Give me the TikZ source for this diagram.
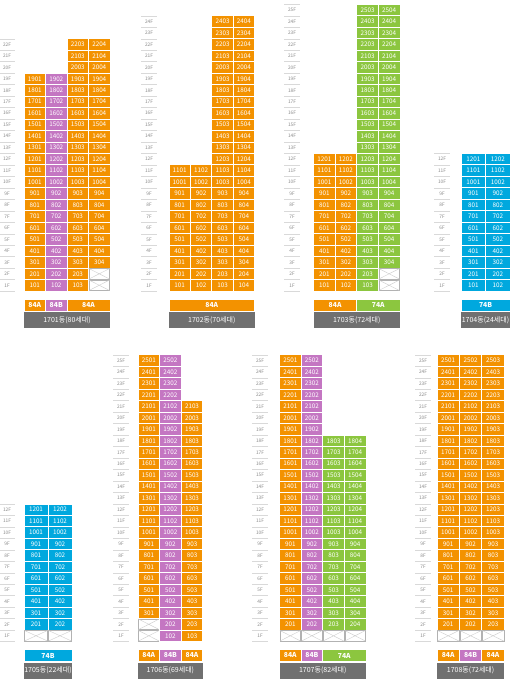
\documentclass[tikz,border=0pt]{standalone}
\usepackage{fontspec}
\setmainfont{Noto Sans CJK KR}
\definecolor{cor}{RGB}{243,146,0}
\definecolor{cpu}{RGB}{196,118,194}
\definecolor{cgr}{RGB}{140,198,63}
\definecolor{cbl}{RGB}{0,168,222}
\definecolor{cgy}{RGB}{112,112,112}
\tikzset{
 cellbox/.style={draw=white, line width=0.7pt, inner sep=0pt, minimum height=11.47pt, text=white, font=\fontsize{6.3}{6.5}\selectfont},
 xbox/.style={draw=black!30, line width=0.4pt, fill=white},
 xline/.style={draw=black!20, line width=0.4pt},
 flabel/.style={text=black!45, font=\fontsize{4.8}{5}\selectfont, inner sep=0pt},
 fline/.style={draw=black!15, line width=0.3pt},
 typebar/.style={draw=white, line width=0.7pt, inner sep=0pt, minimum height=12pt, text=white, font=\fontsize{6.8}{7}\selectfont\bfseries},
 namebar/.style={fill=cgy, inner sep=0pt, minimum height=16pt, text=white, font=\fontsize{7}{7.5}\selectfont},
}
\newcommand\RH{11.47}
% building id, x, w, ground, column number, from, to, colour
\newcommand\ucol[8]{%
 \foreach \f in {#6,...,#7}{%
   \pgfmathtruncatemacro\num{\f*100+#5}%
   \node[cellbox, fill=#8, minimum width=#3pt] (b#1-\num) at ({#2+#3/2},{#4-(\f-0.5)*\RH}) {\num};
 }}
% x, w, ground, floor
\newcommand\xcell[4]{%
 \draw[xbox] ({#1+0.5},{#3-(#4-1)*\RH-0.5}) rectangle ({#1+#2-0.5},{#3-#4*\RH+0.5});
 \draw[xline] ({#1+0.5},{#3-(#4-1)*\RH-0.5}) -- ({#1+#2-0.5},{#3-#4*\RH+0.5})
   ({#1+0.5},{#3-#4*\RH+0.5}) -- ({#1+#2-0.5},{#3-(#4-1)*\RH-0.5});
}
% building id, x centre, ground, top floor
\newcommand\flabels[4]{%
 \foreach \f in {1,...,#4}{%
   \node[flabel] (f#1-\f) at (#2,{#3-(\f-0.5)*\RH}) {\f F};
 }
 \foreach \f in {0,...,#4}{%
   \draw[fline] ({#2-8},{#3-\f*\RH}) -- ({#2+8},{#3-\f*\RH});
 }}
% name, x1, x2, ground, colour, text
\newcommand\tbar[6]{%
 \pgfmathsetmacro\bw{#3-#2}%
 \node[typebar, fill=#5, minimum width=\bw pt] (#1) at ({(#2+#3)/2},{#4+14}) {#6};
}
% name, x1, x2, ground, text
\newcommand\nbar[5]{%
 \pgfmathsetmacro\bw{#3-#2}%
 \node[namebar, minimum width=\bw pt] (#1) at ({(#2+#3)/2},{#4+29}) {#5};
}
\begin{document}
\begin{tikzpicture}[x=1pt,y=-1pt]
\useasboundingbox (0,0) rectangle (512,679);
\fill[white] (0,0) rectangle (512,679);
% ---------- 1701 ----------
\flabels{1701}{7}{291}{22}
\ucol{1701}{24}{21.5}{291}{1}{1}{19}{cor}
\ucol{1701}{45.5}{21.5}{291}{2}{1}{19}{cpu}
\ucol{1701}{67}{21.5}{291}{3}{1}{22}{cor}
\ucol{1701}{88.5}{21.5}{291}{4}{3}{22}{cor}
\xcell{88.5}{21.5}{291}{1}
\xcell{88.5}{21.5}{291}{2}
\tbar{t1701a}{24}{45.5}{291}{cor}{84A}
\tbar{t1701b}{45.5}{67}{291}{cpu}{84B}
\tbar{t1701c}{67}{110}{291}{cor}{84A}
\nbar{n1701}{24}{110}{291}{1701동(80세대)}
% ---------- 1702 ----------
\flabels{1702}{149}{291}{24}
\ucol{1702}{169}{21.4}{291}{1}{1}{11}{cor}
\ucol{1702}{190.4}{21.4}{291}{2}{1}{11}{cor}
\ucol{1702}{211.8}{21.4}{291}{3}{1}{24}{cor}
\ucol{1702}{233.2}{21.4}{291}{4}{1}{24}{cor}
\tbar{t1702a}{169}{254.6}{291}{cor}{84A}
\nbar{n1702}{169}{254.6}{291}{1702동(70세대)}
% ---------- 1703 ----------
\flabels{1703}{292}{291}{25}
\ucol{1703}{313.5}{21.6}{291}{1}{1}{12}{cor}
\ucol{1703}{335.1}{21.6}{291}{2}{1}{12}{cor}
\ucol{1703}{356.7}{21.6}{291}{3}{1}{25}{cgr}
\ucol{1703}{378.3}{21.6}{291}{4}{3}{25}{cgr}
\xcell{378.3}{21.6}{291}{1}
\xcell{378.3}{21.6}{291}{2}
\tbar{t1703a}{313.5}{356.7}{291}{cor}{84A}
\tbar{t1703b}{356.7}{399.9}{291}{cgr}{74A}
\nbar{n1703}{313.5}{399.9}{291}{1703동(72세대)}
% ---------- 1704 ----------
\flabels{1704}{442}{291}{12}
\ucol{1704}{461}{24.5}{291}{1}{1}{12}{cbl}
\ucol{1704}{485.5}{24.5}{291}{2}{1}{12}{cbl}
\tbar{t1704a}{461}{510}{291}{cbl}{74B}
\nbar{n1704}{461}{510}{291}{1704동(24세대)}
% ---------- 1705 ----------
\flabels{1705}{7}{641.5}{12}
\ucol{1705}{24}{24}{641.5}{1}{2}{12}{cbl}
\ucol{1705}{48}{24}{641.5}{2}{2}{12}{cbl}
\xcell{24}{24}{641.5}{1}
\xcell{48}{24}{641.5}{1}
\tbar{t1705a}{24}{72}{641.5}{cbl}{74B}
\nbar{n1705}{24}{72}{641.5}{1705동(22세대)}
% ---------- 1706 ----------
\flabels{1706}{121}{641.5}{25}
\ucol{1706}{138}{21.6}{641.5}{1}{3}{25}{cor}
\xcell{138}{21.6}{641.5}{1}
\xcell{138}{21.6}{641.5}{2}
\ucol{1706}{159.6}{21.6}{641.5}{2}{1}{25}{cpu}
\ucol{1706}{181.2}{21.6}{641.5}{3}{1}{21}{cor}
\tbar{t1706a}{138}{159.6}{641.5}{cor}{84A}
\tbar{t1706b}{159.6}{181.2}{641.5}{cpu}{84B}
\tbar{t1706c}{181.2}{202.8}{641.5}{cor}{84A}
\nbar{n1706}{138}{202.8}{641.5}{1706동(69세대)}
% ---------- 1707 ----------
\flabels{1707}{260}{641.5}{25}
\ucol{1707}{279.5}{21.6}{641.5}{1}{2}{25}{cor}
\ucol{1707}{301.1}{21.6}{641.5}{2}{2}{25}{cpu}
\ucol{1707}{322.7}{21.6}{641.5}{3}{2}{18}{cgr}
\ucol{1707}{344.3}{21.6}{641.5}{4}{2}{18}{cgr}
\xcell{279.5}{21.6}{641.5}{1}
\xcell{301.1}{21.6}{641.5}{1}
\xcell{322.7}{21.6}{641.5}{1}
\xcell{344.3}{21.6}{641.5}{1}
\tbar{t1707a}{279.5}{301.1}{641.5}{cor}{84A}
\tbar{t1707b}{301.1}{322.7}{641.5}{cpu}{84B}
\tbar{t1707c}{322.7}{365.9}{641.5}{cgr}{74A}
\nbar{n1707}{279.5}{365.9}{641.5}{1707동(82세대)}
% ---------- 1708 ----------
\flabels{1708}{423}{641.5}{25}
\ucol{1708}{437}{22.4}{641.5}{1}{2}{25}{cor}
\ucol{1708}{459.4}{22.4}{641.5}{2}{2}{25}{cor}
\ucol{1708}{481.8}{22.4}{641.5}{3}{2}{25}{cor}
\xcell{437}{22.4}{641.5}{1}
\xcell{459.4}{22.4}{641.5}{1}
\xcell{481.8}{22.4}{641.5}{1}
\tbar{t1708a}{437}{459.4}{641.5}{cor}{84A}
\tbar{t1708b}{459.4}{481.8}{641.5}{cpu}{84B}
\tbar{t1708c}{481.8}{504.2}{641.5}{cor}{84A}
\nbar{n1708}{437}{504.2}{641.5}{1708동(72세대)}
\end{tikzpicture}
\end{document}
